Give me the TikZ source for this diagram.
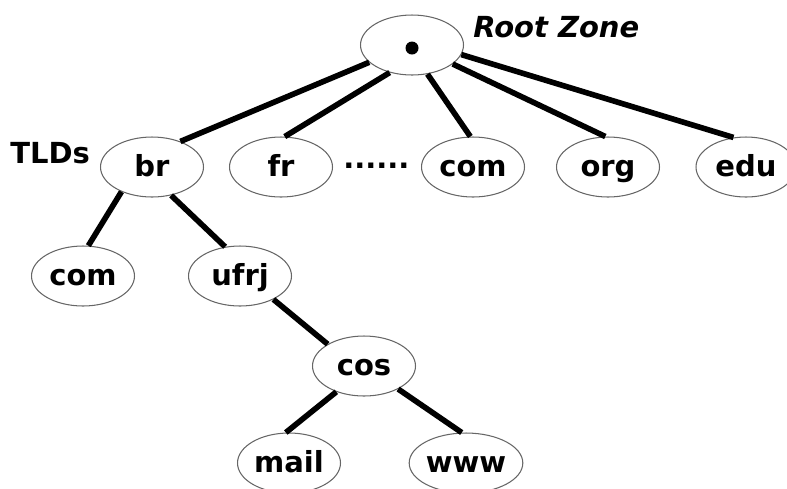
\documentclass[tikz,border=0pt]{standalone}
\usepackage{fontspec}
\setmainfont{DejaVu Sans}[BoldItalicFont={DejaVu Sans Bold Oblique},ItalicFont={DejaVu Sans Oblique}]
\usetikzlibrary{shapes.geometric}
\tikzset{
  zone/.style={ellipse, draw=black!60, line width=0.6pt, minimum width=2.06cm, minimum height=1.2cm, inner sep=0pt, text height=0.36cm, text depth=0pt},
  link/.style={line width=3.2pt},
}
\begin{document}
\begin{tikzpicture}[x=0.02cm,y=-0.02cm,font=\fontsize{16.5}{18}\selectfont\bfseries]
                \useasboundingbox (0,0) rectangle (787,488);
                \node[zone] (root) at (412,45) {}; \fill (412,48) circle (0.13cm); \node[anchor=base west, inner sep=0pt, font=\fontsize{16.5}{18}\selectfont\bfseries\itshape] (rootlbl) at (473,37) {Root Zone};
                \node[anchor=base west, inner sep=0pt] (tlds) at (10,163) {TLDs};
                \node[zone] (br) at (152,167) {br}; \node[zone] (fr) at (281,167) {fr}; \node[anchor=base west, inner sep=0pt] (dots) at (343,168) {......}; \node[zone] (com) at (473,167) {com}; \node[zone] (org) at (608,167) {org}; \node[zone, minimum width=2cm] (edu) at (746,167) {edu};
                \node[zone] (brcom) at (83,276) {com}; \node[zone] (ufrj) at (240,276) {ufrj};
                \node[zone] (cos) at (364,366) {cos};
                \node[zone] (mail) at (289,463) {mail}; \node[zone] (www) at (466,463) {www};

                \draw[link] (root.202) to (br.42); \draw[link] (root.231) to (fr.83); \draw[link] (root.298) to (com.95); \draw[link] (root.335) to (org.95); \draw[link] (root.349) to (edu.113);
                \draw[link] (br.219) to (brcom.80); \draw[link] (br.304) to (ufrj.117);
                \draw[link] (ufrj.325) to (cos.149);
                \draw[link] (cos.223) to (mail.96); \draw[link] (cos.326) to (www.98);
            \end{tikzpicture}
\end{document}
